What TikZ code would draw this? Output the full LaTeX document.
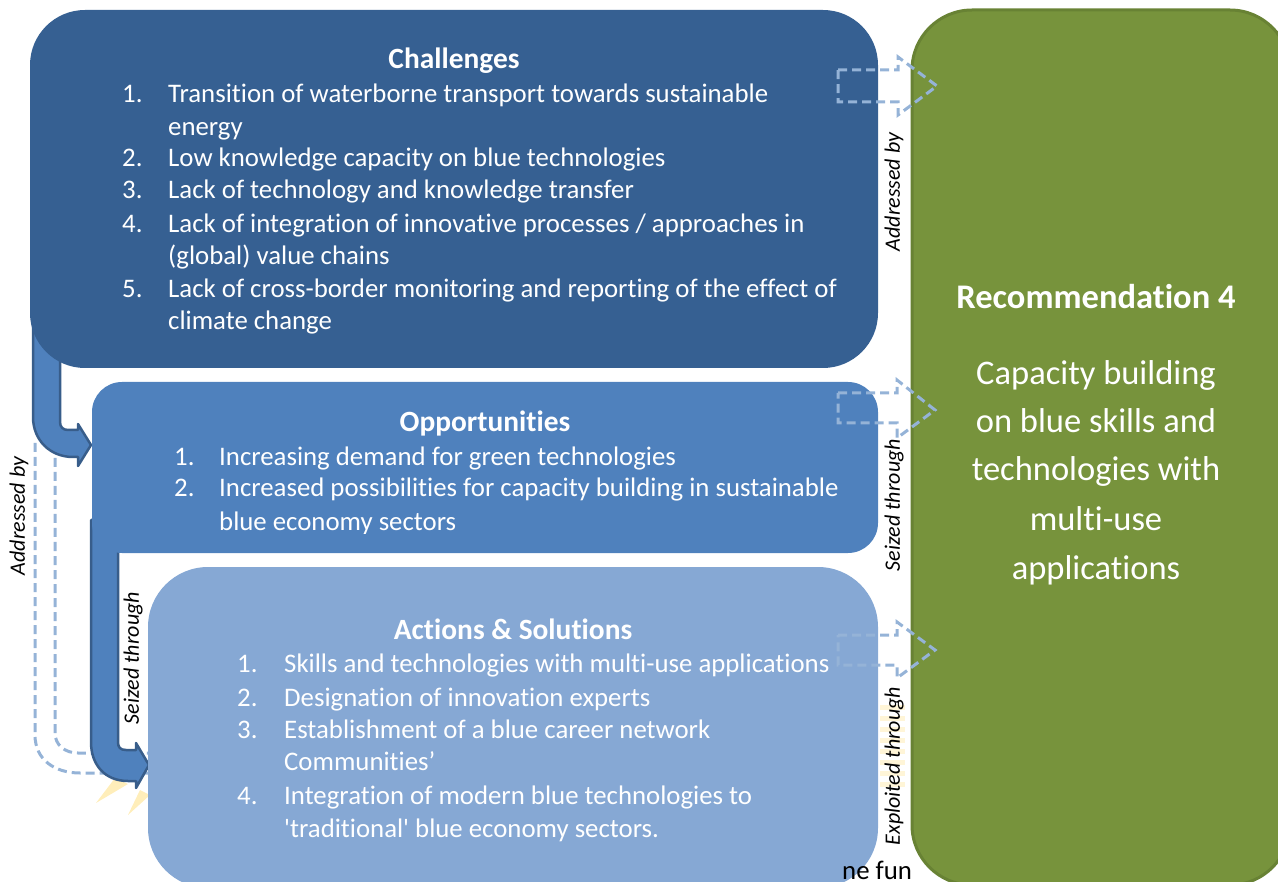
\documentclass[tikz,border=0pt]{standalone}
\usepackage{fontspec}
\setmainfont{Carlito}[Ligatures={NoCommon,NoContextual}]
\definecolor{chal}{RGB}{54,96,146}
\definecolor{opp}{RGB}{79,129,189}
\definecolor{act}{RGB}{134,168,212}
\definecolor{grn}{RGB}{119,147,60}
\definecolor{grnb}{RGB}{104,130,52}
\definecolor{arrb}{RGB}{56,93,138}
\definecolor{dsh}{RGB}{149,179,215}
\definecolor{ray}{RGB}{255,226,140}
\begin{document}
\begin{tikzpicture}[x=1pt,y=-1pt,
  txt/.style={text=white,inner sep=0pt,anchor=base west,font=\fontsize{26.8}{31}\selectfont},
  ttl/.style={text=white,inner sep=0pt,anchor=base,font=\fontsize{29.4}{34}\selectfont\bfseries},
  rec/.style={text=white,inner sep=0pt,anchor=base,font=\fontsize{34.5}{40}\selectfont},
  lbl/.style={inner sep=0pt,rotate=90,font=\fontsize{22}{26}\selectfont\itshape},
  dasharr/.style={draw=dsh,line width=3pt,dash pattern=on 9pt off 5pt},
  bent/.style={fill=opp,draw=arrb,line width=2.5pt,line join=round},
  raystyle/.style={fill=ray,opacity=0.6,draw=none},
]
\useasboundingbox (0,0) rectangle (1278,882);
% faint yellow rays
\fill[raystyle] (96,803) -- (115,778) -- (128,784) -- cycle;
\fill[raystyle] (128,815) -- (140,790) -- (150,795) -- cycle;
\foreach \yy in {705,716,727,738,749,760,771,782}{
  \fill[ray,opacity=0.35] (880,\yy) rectangle (905,\yy+5);
}
% dashed outline bent arrow (left)
\draw[dasharr] (35,443) -- (35,735) .. controls (35,760) and (55,773) .. (80,773) -- (150,773);
\draw[dasharr] (55,458) -- (55,733) .. controls (55,745) and (65,753) .. (78,753) -- (150,753);
% bent arrows
\draw[bent] (33,300) -- (33,417) .. controls (33,440) and (50,457) .. (73,457) -- (78,457) -- (78,466)
  -- (91,445) -- (78,424) -- (78,430) -- (68,430) .. controls (63,430) and (60,427) .. (60,422) -- (60,300) -- cycle;
\draw[bent] (91,520) -- (91,742) .. controls (91,765) and (105,781) .. (128,781) -- (136,781) -- (136,788)
  -- (149,765) -- (136,743) -- (136,750) -- (126,750) .. controls (120,750) and (118,747) .. (118,742) -- (118,520) -- cycle;
% boxes
\fill[chal,rounded corners=55pt] (30,10) rectangle (878,368);
\fill[opp,rounded corners=30pt] (92,382) rectangle (878,553);
\fill[act,rounded corners=60pt] (148,567) rectangle (878,888);
% partial text lying over the actions box, under the recommendation box
\node[inner sep=0pt,anchor=base west,font=\fontsize{26.8}{31}\selectfont] (fun) at (842,879) {ne fun};
\filldraw[fill=grn,draw=grnb,line width=3pt,rounded corners=60pt] (912,10) rectangle (1290,885);
% Challenges text
\node[ttl] (cT) at (454,69) {Challenges};
\node[txt] (c1n) at (122,103) {1.};
\node[txt] (c1t) at (168,103) {Transition of waterborne transport towards sustainable};
\node[txt] (c1u) at (168,136) {energy};
\node[txt] (c2n) at (122,167) {2.};
\node[txt] (c2t) at (168,167) {Low knowledge capacity on blue technologies};
\node[txt] (c3n) at (122,199) {3.};
\node[txt] (c3t) at (168,199) {Lack of technology and knowledge transfer};
\node[txt] (c4n) at (122,233) {4.};
\node[txt] (c4t) at (168,233) {Lack of integration of innovative processes / approaches in};
\node[txt] (c4u) at (168,265) {(global) value chains};
\node[txt] (c5n) at (122,298) {5.};
\node[txt] (c5t) at (168,298) {Lack of cross-border monitoring and reporting of the effect of};
\node[txt] (c5u) at (168,330) {climate change};
% Opportunities text
\node[ttl] (oT) at (485,432) {Opportunities};
\node[txt] (o1n) at (174,466) {1.};
\node[txt] (o1t) at (219,466) {Increasing demand for green technologies};
\node[txt] (o2n) at (174,497) {2.};
\node[txt] (o2t) at (219,497) {Increased possibilities for capacity building in sustainable};
\begin{scope}
\clip (200,500) rectangle (700,534);
\node[txt] (o2u) at (219,530) {blue economy sectors};
\end{scope}
% Actions text
\node[ttl] (aT) at (513,639) {Actions \& Solutions};
\node[txt] (a1n) at (237,672) {1.};
\node[txt] (a1t) at (284,672) {Skills and technologies with multi-use applications};
\node[txt] (a2n) at (237,706) {2.};
\node[txt] (a2t) at (284,706) {Designation of innovation experts};
\node[txt] (a3n) at (237,738) {3.};
\node[txt] (a3t) at (284,738) {Establishment of a blue career network};
\node[txt] (a3u) at (284,770) {Communities’};
\node[txt] (a4n) at (237,804) {4.};
\node[txt] (a4t) at (284,804) {Integration of modern blue technologies to};
\node[txt] (a4u) at (284,837) {\textquotesingle traditional\textquotesingle\ blue economy sectors.};
% Recommendation text
\node[ttl,font=\fontsize{34.5}{40}\selectfont\bfseries] (rT) at (1096,309) {Recommendation 4};
\node[rec] (r1) at (1096,385) {Capacity building};
\node[rec] (r2) at (1096,433) {on blue skills and};
\node[rec] (r3) at (1096,481) {technologies with};
\node[rec] (r4) at (1096,530) {multi-use};
\node[rec] (r5) at (1096,579) {applications};
% dashed block arrows (right)
\draw[dasharr] (838,70) -- (898,70) -- (898,57) -- (937,86) -- (898,115) -- (898,102) -- (838,102) -- cycle;
\draw[dasharr] (838,393) -- (897,393) -- (897,380) -- (935,410) -- (897,438) -- (897,423) -- (838,423) -- cycle;
\draw[dasharr] (838,635) -- (897,635) -- (897,622) -- (935,650) -- (897,678) -- (897,665) -- (838,665) -- cycle;
% rotated labels
\node[lbl] (lAr) at (894,192) {Addressed by};
\node[lbl] (lSr) at (894,505) {Seized through};
\node[lbl] (lEr) at (894,766) {Exploited through};
\node[lbl] (lAl) at (19,516) {Addressed by};
\node[lbl] (lSl) at (133,658) {Seized through};
\end{tikzpicture}
\end{document}
